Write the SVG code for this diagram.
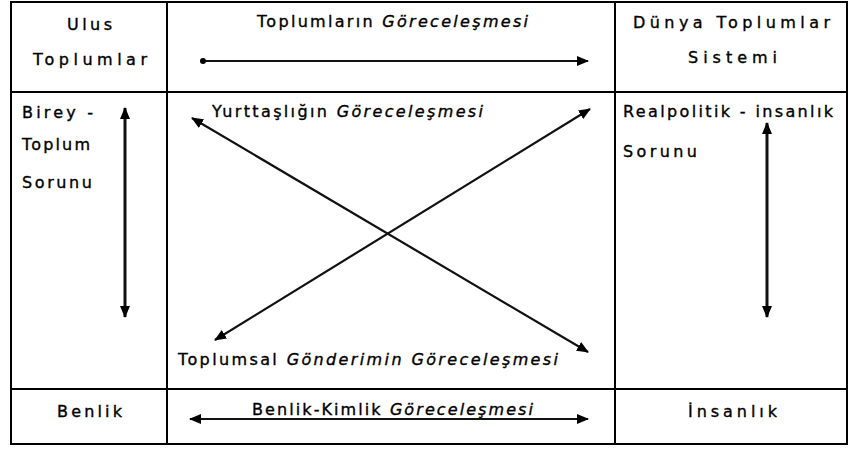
<svg xmlns="http://www.w3.org/2000/svg" width="849" height="451" viewBox="0 0 849 451">
<style>
text{font-family:"DejaVu Sans","Liberation Sans",Arial,sans-serif;font-size:16px;fill:#000;stroke:#000;stroke-width:0.35;}
.it{font-style:italic;}
.grid{stroke:#000;stroke-width:2;fill:none;}
.arr{stroke:#111;stroke-width:2.2;fill:none;}
.thick{stroke-width:3;}
</style>
<defs>
<marker id="ah" viewBox="0 0 12 10" refX="11" refY="5" markerWidth="12" markerHeight="10" markerUnits="userSpaceOnUse" orient="auto-start-reverse">
<path d="M0,0 L12,5 L0,10 Z" fill="#000"/>
</marker>
<marker id="dot" viewBox="0 0 6 6" refX="3" refY="3" markerWidth="6" markerHeight="6" markerUnits="userSpaceOnUse">
<circle cx="3" cy="3" r="3" fill="#000"/>
</marker>
</defs>
<g id="table">
<rect class="grid" x="11" y="2" width="836" height="442"/>
<line class="grid" x1="167" y1="2" x2="167" y2="444"/>
<line class="grid" x1="615" y1="2" x2="615" y2="444"/>
<line class="grid" x1="11" y1="92" x2="847" y2="92"/>
<line class="grid" x1="11" y1="389" x2="847" y2="389"/>
</g>
<g id="n-ulus">
<text x="67" y="30" textLength="45" lengthAdjust="spacing">Ulus</text>
<text x="33" y="65" textLength="114" lengthAdjust="spacing">Toplumlar</text>
</g>
<g id="n-toplumlarin">
<text x="257" y="27" textLength="271" lengthAdjust="spacing">Toplumların <tspan class="it">Göreceleşmesi</tspan></text>
</g>
<g id="n-dunya">
<text x="633" y="28" textLength="197" lengthAdjust="spacing">Dünya Toplumlar</text>
<text x="688" y="63" textLength="89" lengthAdjust="spacing">Sistemi</text>
</g>
<g id="n-birey">
<text x="22" y="118" textLength="71" lengthAdjust="spacing">Birey -</text>
<text x="22" y="150" textLength="68" lengthAdjust="spacing">Toplum</text>
<text x="22" y="188" textLength="70" lengthAdjust="spacing">Sorunu</text>
</g>
<g id="n-yurttaslik">
<text x="212" y="117" textLength="271" lengthAdjust="spacing">Yurttaşlığın <tspan class="it">Göreceleşmesi</tspan></text>
</g>
<g id="n-realpolitik">
<text x="623" y="117" textLength="210" lengthAdjust="spacing">Realpolitik - insanlık</text>
<text x="623" y="157" textLength="74" lengthAdjust="spacing">Sorunu</text>
</g>
<g id="n-toplumsal">
<text x="178" y="365" textLength="380" lengthAdjust="spacing">Toplumsal <tspan class="it">Gönderimin Göreceleşmesi</tspan></text>
</g>
<g id="n-benlik">
<text x="57" y="417" textLength="65" lengthAdjust="spacing">Benlik</text>
</g>
<g id="n-benlik-kimlik">
<text x="252" y="415" textLength="281" lengthAdjust="spacing">Benlik-Kimlik <tspan class="it">Göreceleşmesi</tspan></text>
</g>
<g id="n-insanlik">
<text x="688" y="417" textLength="89" lengthAdjust="spacing">İnsanlık</text>
</g>
<g id="connectors">
<line class="arr" x1="203" y1="61" x2="588" y2="61" marker-start="url(#dot)" marker-end="url(#ah)"/>
<line class="arr" x1="192" y1="118" x2="588" y2="352" marker-start="url(#ah)" marker-end="url(#ah)"/>
<line class="arr" x1="215" y1="340" x2="590" y2="109" marker-start="url(#ah)" marker-end="url(#ah)"/>
<line class="arr" x1="190" y1="419" x2="588" y2="419" marker-start="url(#ah)" marker-end="url(#ah)"/>
<line class="arr thick" x1="125" y1="108" x2="125" y2="317" marker-start="url(#ah)" marker-end="url(#ah)"/>
<line class="arr thick" x1="767" y1="123" x2="767" y2="317" marker-start="url(#ah)" marker-end="url(#ah)"/>
</g>
</svg>
